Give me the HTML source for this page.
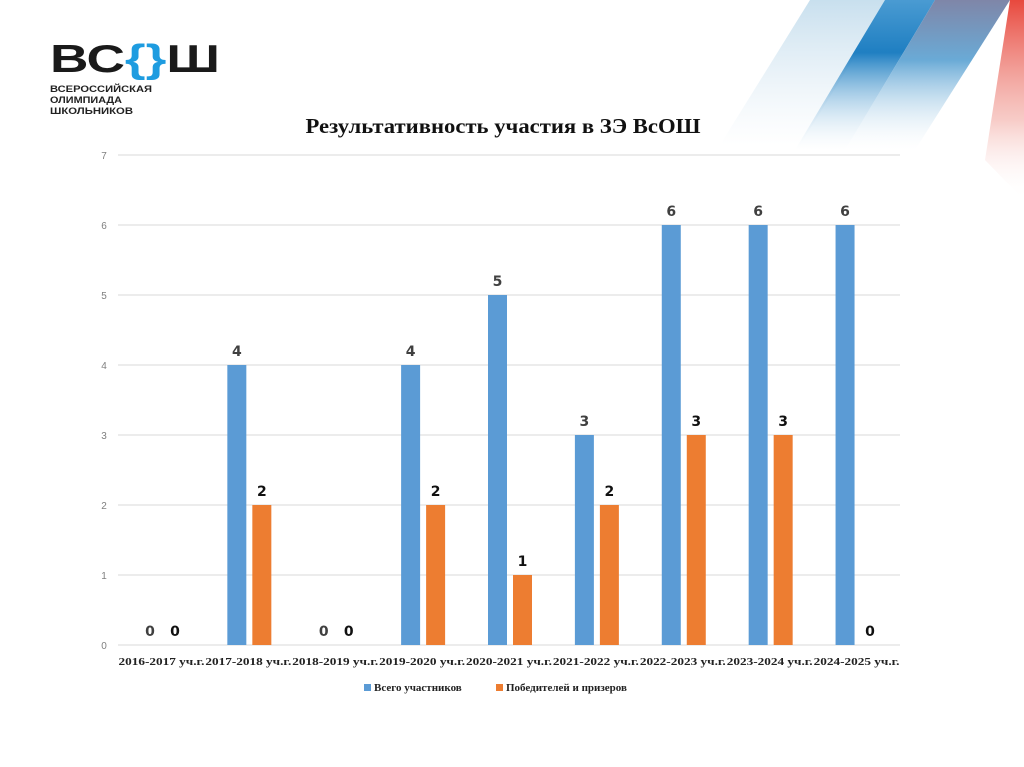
<!DOCTYPE html>
<html><head><meta charset="utf-8">
<style>
html,body{margin:0;padding:0;background:#fff;}
svg{display:block;}
</style></head>
<body>
<svg id="chart" width="1024" height="767" xmlns="http://www.w3.org/2000/svg">
<defs>
<linearGradient id="g1" x1="0" y1="0" x2="0" y2="1"><stop offset="0" stop-color="#c2dcec" stop-opacity="0.9"/><stop offset="1" stop-color="#dbe9f3" stop-opacity="0"/></linearGradient>
<linearGradient id="g2" x1="0" y1="0" x2="0" y2="1"><stop offset="0" stop-color="#4a9bd2"/><stop offset="0.35" stop-color="#1f7fc2"/><stop offset="1" stop-color="#cfe4f2" stop-opacity="0"/></linearGradient>
<linearGradient id="g3" x1="0" y1="0" x2="0" y2="1"><stop offset="0" stop-color="#7f86a8"/><stop offset="0.4" stop-color="#6aaad6"/><stop offset="1" stop-color="#e6f1f8" stop-opacity="0"/></linearGradient>
<linearGradient id="g4" x1="0" y1="0" x2="0" y2="1"><stop offset="0" stop-color="#e8483d"/><stop offset="0.6" stop-color="#f2a9a2" stop-opacity="0.6"/><stop offset="1" stop-color="#fff" stop-opacity="0"/></linearGradient>
</defs>
<g>
<polygon points="810,0 890,0 800,145 720,145" fill="url(#g1)"/>
<polygon points="885,0 935,0 845,150 795,150" fill="url(#g2)"/>
<polygon points="935,0 1010,0 915,150 845,150" fill="url(#g3)"/>
<polygon points="1010,0 1024,0 1024,200 985,160" fill="url(#g4)"/>
</g>
<g font-family="'Liberation Sans', 'DejaVu Sans', sans-serif" font-weight="bold">
<text x="50" y="72" font-size="39" fill="#1a1a1a" textLength="170" lengthAdjust="spacingAndGlyphs">ВС<tspan fill="#1e9ce0">{}</tspan>Ш</text>
<text x="50" y="92" font-size="9" fill="#222" textLength="102" lengthAdjust="spacingAndGlyphs">ВСЕРОССИЙСКАЯ</text>
<text x="50" y="103" font-size="9" fill="#222" textLength="72" lengthAdjust="spacingAndGlyphs">ОЛИМПИАДА</text>
<text x="50" y="114" font-size="9" fill="#222" textLength="83" lengthAdjust="spacingAndGlyphs">ШКОЛЬНИКОВ</text>
</g>
<text x="503" y="133" text-anchor="middle" font-family="'Liberation Serif', serif" font-weight="bold" font-size="21" fill="#111" textLength="395" lengthAdjust="spacingAndGlyphs">Результативность участия в ЗЭ ВсОШ</text>
<g id="grid"></g><g id="bars"></g><g id="labels"></g>
<g font-family="'Liberation Serif', serif" font-weight="bold" font-size="11" fill="#222">
<rect x="364" y="684" width="7" height="7" fill="#5b9bd5"/>
<text x="374" y="691">Всего участников</text>
<rect x="496" y="684" width="7" height="7" fill="#ed7d31"/>
<text x="506" y="691">Победителей и призеров</text>
</g>
</svg>
<script>
const categories=["2016-2017 уч.г.","2017-2018 уч.г.","2018-2019 уч.г.","2019-2020 уч.г.","2020-2021 уч.г.","2021-2022 уч.г.","2022-2023 уч.г.","2023-2024 уч.г.","2024-2025 уч.г."];
const totalParticipants=[0,4,0,4,5,3,6,6,6];
const winners=[0,2,0,2,1,2,3,3,0];
const yTicks=[0,1,2,3,4,5,6,7];
const NS="http://www.w3.org/2000/svg";
const x0=118,x1=900,y0=645,yTop=155,yMax=7;
const bw=(x1-x0)/categories.length;
function yScale(v){return y0-(y0-yTop)*v/yMax;}
function xCenter(i){return x0+bw*(i+0.5);}
function mk(tag,attrs,parent){const e=document.createElementNS(NS,tag);for(const k in attrs)e.setAttribute(k,attrs[k]);parent.appendChild(e);return e;}
const grid=document.getElementById('grid'),bars=document.getElementById('bars'),labels=document.getElementById('labels');
yTicks.forEach(t=>{
  const l=mk('line',{x1:x0,x2:x1,y1:yScale(t),y2:yScale(t),stroke:'#d9d9d9','stroke-width':1},grid);
  
  
  const tx=mk('text',{x:104,y:yScale(t)+4,'text-anchor':'middle','font-family':"'Liberation Sans',sans-serif",'font-size':10,fill:'#7f7f7f'},grid);
  tx.textContent=t;
  
  
});
categories.forEach((c,i)=>{
  const cx=xCenter(i);
  const tx=mk('text',{x:cx,y:665,'text-anchor':'middle','font-family':"'Liberation Serif',serif",'font-weight':'bold','font-size':11,fill:'#222',textLength:bw-1,lengthAdjust:'spacingAndGlyphs'},labels);
  tx.textContent=c;
  
  
  const series=[[totalParticipants[i],'#5b9bd5',cx-21,'#404040'],[winners[i],'#ed7d31',cx+4,'#111']];
  series.forEach((s,k)=>{
    const v=s[0];
    if(v>0){
      const r=mk('rect',{x:s[2],y:yScale(v),width:19,height:y0-yScale(v),fill:s[1]},bars);
      
      
    }
    const lb=mk('text',{x:s[2]+9.5,y:yScale(v)-9,'text-anchor':'middle','font-family':"'DejaVu Sans','Liberation Sans',sans-serif",'font-weight':'bold','font-size':14,fill:s[3]},labels);
    lb.textContent=v;
    
    
  });
});
</script>
</body></html>
